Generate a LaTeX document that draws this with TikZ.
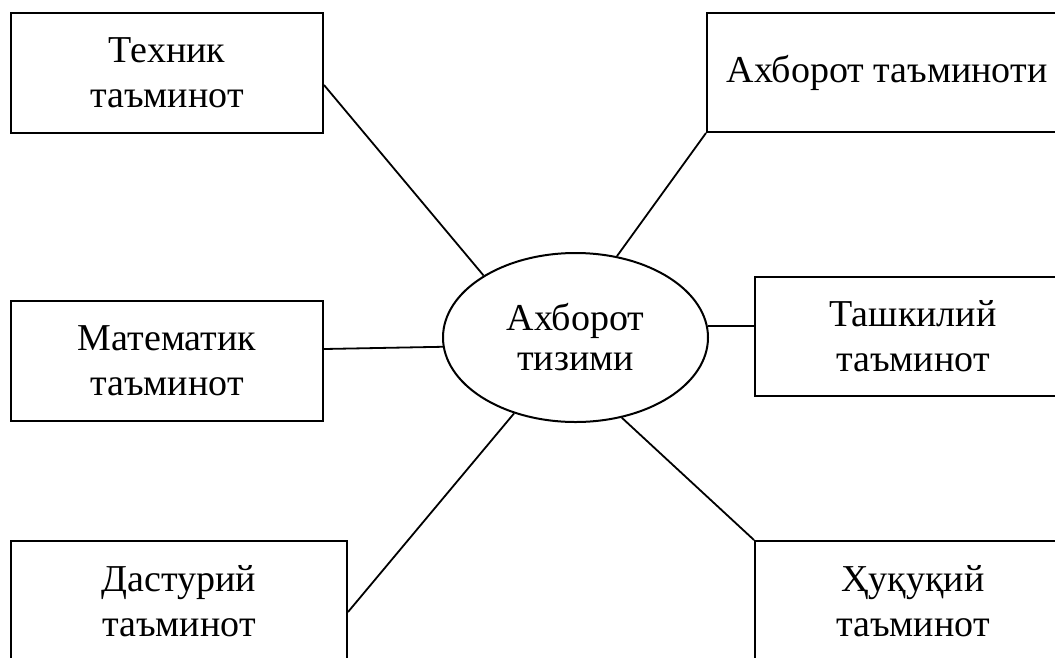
\documentclass[tikz,border=0pt]{standalone}
\usepackage{fontspec}
\setmainfont{Liberation Serif}
\usetikzlibrary{shapes.geometric}
\begin{document}
\begin{tikzpicture}[x=1pt,y=-1pt,
  box/.style={draw, line width=2pt, rectangle, inner sep=0pt, align=center,
    font=\fontsize{38}{45}\selectfont},
  hub/.style={draw, line width=2pt, ellipse, inner sep=0pt, align=center,
    minimum width=265pt, minimum height=169pt, font=\fontsize{38}{40}\selectfont},
  link/.style={line width=1.8pt}]
\useasboundingbox[fill=white] (0,0) rectangle (1055,657);
\clip (0,0) rectangle (1055,657);
\node[box, minimum width=312pt, minimum height=120pt] (tech) at (167,73) {Техник\\таъминот};
\node[box, minimum width=360pt, minimum height=119pt] (info) at (887,72.5) {Ахборот таъминоти};
\node[box, minimum width=312pt, minimum height=120pt] (math) at (167,361) {Математик\\таъминот};
\node[box, minimum width=316pt, minimum height=119pt] (org) at (913,336.5) {Ташкилий\\таъминот};
\node[box, minimum width=336pt, minimum height=120pt] (prog) at (179,601) {Дастурий\\таъминот};
\node[box, minimum width=316pt, minimum height=120pt] (law) at (913,601) {Ҳуқуқий\\таъминот};
\node[hub] (sys) at (575.5,337.5) {Ахборот\\тизими};
\draw[link] ([yshift=-12pt]tech.east) -- (sys.146);
\draw[link] (info.south west) -- (sys.63);
\draw[link] ([yshift=12pt]math.east) -- (sys.184);
\draw[link] (sys.5) -- (sys.5 -| org.west);
\draw[link] ([yshift=-11pt]prog.east) -- (sys.231);
\draw[link] (law.north west) -- (sys.300);
\end{tikzpicture}
\end{document}
